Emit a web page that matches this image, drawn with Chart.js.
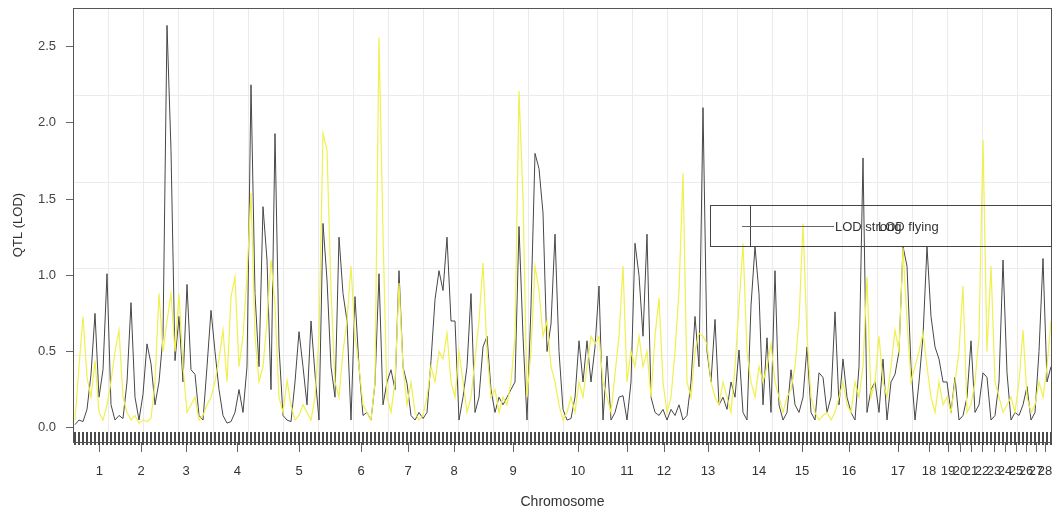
<!DOCTYPE html>
<html>
<head>
<meta charset="utf-8">
<script src="https://cdn.jsdelivr.net/npm/chart.js@4/dist/chart.umd.min.js"></script>
<style>
  html, body { margin: 0; padding: 0; background: #fff; }
  #wrap { width: 1055px; height: 516px; }
</style>
</head>
<body>
<div id="wrap"><canvas id="grafico-qtl"></canvas></div>
<script>
// chromosome labels and where they sit along the scan (marker index units)
const chromNames = ['1','2','3','4','5','6','7','8','9','10','11','12','13','14',
  '15','16','17','18','19','20','21','22','23','24','25','26','27','28'];
const chromMid = [6.1, 16.5, 27.75, 40.6, 56, 71.5, 83.25, 94.75, 109.5, 125.75, 138, 147.25,
  158.25, 171, 181.75, 193.5, 205.75, 213.5, 218.25, 221.25, 224, 226.75, 229.75, 232.5,
  235.25, 237.75, 240.25, 242.5];
const yTicks = [0, 0.5, 1.0, 1.5, 2.0, 2.5];

// LOD scores, one value per marker
const lodStrong = [
  0.02, 0.05, 0.04, 0.12, 0.35, 0.75, 0.20, 0.38, 1.01, 0.15,
  0.05, 0.08, 0.06, 0.30, 0.82, 0.20, 0.05, 0.22, 0.55, 0.42,
  0.15, 0.30, 0.60, 2.64, 1.82, 0.44, 0.73, 0.30, 0.94, 0.38,
  0.35, 0.08, 0.05, 0.40, 0.77, 0.50, 0.25, 0.08, 0.03, 0.04,
  0.10, 0.25, 0.10, 0.40, 2.25, 0.88, 0.40, 1.45, 1.10, 0.25,
  1.93, 0.53, 0.08, 0.05, 0.04, 0.30, 0.63, 0.40, 0.15, 0.70,
  0.35, 0.05, 1.34, 0.97, 0.40, 0.20, 1.25, 0.88, 0.70, 0.05,
  0.86, 0.40, 0.08, 0.10, 0.05, 0.29, 1.01, 0.15, 0.30, 0.38,
  0.25, 1.03, 0.40, 0.29, 0.08, 0.05, 0.10, 0.06, 0.10, 0.44,
  0.84, 1.03, 0.90, 1.25, 0.70, 0.70, 0.05, 0.20, 0.40, 0.88,
  0.10, 0.20, 0.53, 0.60, 0.25, 0.10, 0.20, 0.15, 0.20, 0.25,
  0.30, 1.32, 0.60, 0.05, 0.80, 1.80, 1.70, 1.41, 0.50, 0.68,
  1.27, 0.50, 0.12, 0.05, 0.06, 0.20, 0.57, 0.30, 0.57, 0.30,
  0.53, 0.93, 0.05, 0.47, 0.05, 0.10, 0.20, 0.21, 0.05, 0.30,
  1.21, 1.00, 0.60, 1.27, 0.20, 0.10, 0.08, 0.12, 0.05, 0.12,
  0.08, 0.15, 0.05, 0.08, 0.30, 0.73, 0.40, 2.10, 0.50, 0.30,
  0.71, 0.15, 0.20, 0.12, 0.30, 0.20, 0.51, 0.10, 0.05, 0.80,
  1.19, 0.88, 0.15, 0.59, 0.10, 1.03, 0.15, 0.05, 0.10, 0.38,
  0.15, 0.10, 0.20, 0.53, 0.10, 0.05, 0.36, 0.33, 0.10, 0.20,
  0.76, 0.15, 0.45, 0.20, 0.10, 0.05, 0.40, 1.77, 0.10, 0.25,
  0.30, 0.10, 0.45, 0.05, 0.30, 0.35, 0.50, 1.19, 1.06, 0.40,
  0.05, 0.30, 0.60, 1.19, 0.73, 0.53, 0.45, 0.30, 0.30, 0.10,
  0.33, 0.05, 0.08, 0.20, 0.57, 0.10, 0.15, 0.36, 0.33, 0.05,
  0.08, 0.30, 1.10, 0.36, 0.05, 0.10, 0.08, 0.15, 0.27, 0.05,
  0.10, 0.50, 1.11, 0.30, 0.40
];

const lodFlying = [
  0.05, 0.40, 0.73, 0.33, 0.20, 0.44, 0.10, 0.05, 0.15, 0.30,
  0.50, 0.64, 0.20, 0.10, 0.05, 0.08, 0.03, 0.05, 0.04, 0.06,
  0.30, 0.88, 0.50, 0.70, 0.88, 0.50, 0.88, 0.40, 0.10, 0.15,
  0.20, 0.05, 0.08, 0.15, 0.20, 0.30, 0.45, 0.64, 0.30, 0.86,
  0.99, 0.40, 0.60, 1.00, 1.54, 0.60, 0.30, 0.40, 0.70, 1.10,
  0.80, 0.20, 0.10, 0.31, 0.15, 0.05, 0.08, 0.15, 0.10, 0.05,
  0.20, 0.60, 1.93, 1.82, 0.90, 0.30, 0.20, 0.50, 0.70, 1.06,
  0.60, 0.40, 0.15, 0.10, 0.05, 0.30, 2.56, 1.27, 0.20, 0.10,
  0.30, 0.95, 0.40, 0.15, 0.30, 0.10, 0.05, 0.08, 0.20, 0.40,
  0.30, 0.50, 0.45, 0.62, 0.30, 0.20, 0.50, 0.30, 0.10, 0.20,
  0.45, 0.70, 1.08, 0.50, 0.20, 0.25, 0.10, 0.20, 0.15, 0.30,
  0.60, 2.21, 1.50, 0.20, 0.50, 1.06, 0.90, 0.60, 0.70, 0.40,
  0.30, 0.15, 0.05, 0.10, 0.20, 0.10, 0.30, 0.20, 0.40, 0.60,
  0.55, 0.60, 0.30, 0.20, 0.10, 0.35, 0.60, 1.06, 0.30, 0.50,
  0.40, 0.60, 0.40, 0.50, 0.20, 0.60, 0.85, 0.30, 0.10, 0.20,
  0.50, 0.90, 1.67, 0.30, 0.20, 0.50, 0.62, 0.60, 0.55, 0.30,
  0.20, 0.15, 0.30, 0.20, 0.10, 0.40, 0.80, 1.21, 0.50, 0.30,
  0.20, 0.40, 0.30, 0.40, 0.55, 0.30, 0.20, 0.10, 0.20, 0.25,
  0.40, 0.70, 1.34, 0.60, 0.20, 0.10, 0.05, 0.08, 0.10, 0.05,
  0.10, 0.20, 0.30, 0.15, 0.10, 0.30, 0.20, 0.40, 0.99, 0.20,
  0.30, 0.60, 0.30, 0.20, 0.40, 0.64, 0.50, 1.18, 0.70, 0.30,
  0.40, 0.50, 0.62, 0.40, 0.20, 0.10, 0.30, 0.15, 0.20, 0.10,
  0.30, 0.50, 0.93, 0.10, 0.15, 0.30, 0.60, 1.89, 0.50, 1.06,
  0.30, 0.20, 0.10, 0.15, 0.20, 0.10, 0.30, 0.64, 0.20, 0.10,
  0.15, 0.30, 0.20, 0.40, 0.70
];

const fonte = '"Liberation Sans", Arial, sans-serif';

// R style background grid (grid() splits the box evenly, not at the ticks)
const gradePlugin = {
  id: 'grade',
  beforeDatasetsDraw(chart) {
    const { ctx, chartArea: a } = chart;
    ctx.save();
    ctx.strokeStyle = '#ebebeb';
    ctx.lineWidth = 1;
    ctx.beginPath();
    for (let k = 1; k < 28; k++) {
      const x = Math.round(a.left + (a.right - a.left) * k / 28) + 0.5;
      ctx.moveTo(x, a.top);
      ctx.lineTo(x, a.bottom);
    }
    for (let k = 1; k < 5; k++) {
      const y = Math.round(a.top + (a.bottom - a.top) * k / 5) + 0.5;
      ctx.moveTo(a.left, y);
      ctx.lineTo(a.right, y);
    }
    ctx.stroke();
    ctx.restore();
  }
};

// box around the plot, marker rug, and the (overlapping) legend
const molduraPlugin = {
  id: 'moldura',
  afterDatasetsDraw(chart) {
    const { ctx, chartArea: a } = chart;
    const xs = chart.scales.x;
    ctx.save();

    // rug: one tick per marker
    ctx.strokeStyle = '#1e1e1e';
    ctx.lineWidth = 1.6;
    ctx.beginPath();
    lodStrong.forEach((v, i) => {
      const x = xs.getPixelForValue(i);
      ctx.moveTo(x, a.bottom - 10);
      ctx.lineTo(x, a.bottom + 3);
    });
    ctx.stroke();

    ctx.strokeStyle = '#555';
    ctx.lineWidth = 1;
    ctx.strokeRect(a.left + 0.5, a.top + 0.5, a.right - a.left - 1, a.bottom - a.top);
    ctx.restore();
  },
  afterDraw(chart) {
    const { ctx, chartArea: a } = chart;
    ctx.save();
    ctx.strokeStyle = '#444';
    ctx.lineWidth = 1;
    ctx.strokeRect(710.5, 205.5, a.right - 711, 41);
    ctx.beginPath();
    ctx.moveTo(750.5, 205.5);
    ctx.lineTo(750.5, 246.5);
    ctx.stroke();

    ctx.strokeStyle = '#666';
    ctx.beginPath();
    ctx.moveTo(742, 226.5);
    ctx.lineTo(834, 226.5);
    ctx.stroke();

    ctx.fillStyle = '#333';
    ctx.font = '13px ' + fonte;
    ctx.textBaseline = 'middle';
    ctx.fillText('LOD strong', 835, 227);
    ctx.fillText('LOD flying', 878, 227);
    ctx.restore();
  }
};

const ctx = document.getElementById('grafico-qtl').getContext('2d');

const graficoQtl = new Chart(ctx, {
  type: 'line',
  data: {
    datasets: [
      {
        label: 'LOD strong',
        data: lodStrong.map((v, i) => ({ x: i, y: v })),
        borderColor: '#474747',
        borderWidth: 1,
        pointRadius: 0,
        tension: 0,
        order: 2
      },
      {
        label: 'LOD flying',
        data: lodFlying.map((v, i) => ({ x: i, y: v })),
        borderColor: '#f0f050',
        borderWidth: 1.2,
        pointRadius: 0,
        tension: 0,
        order: 1
      }
    ]
  },
  options: {
    responsive: true,
    maintainAspectRatio: false,
    animation: false,
    layout: { padding: { top: 8, right: 3, left: 0, bottom: 0 } },
    plugins: {
      legend: { display: false },
      tooltip: { enabled: false }
    },
    scales: {
      x: {
        type: 'linear',
        min: -0.5,
        max: 244.25,
        afterFit(scale) {
          scale.height = 74;
          scale.paddingLeft = 0;
          scale.paddingRight = 0;
        },
        afterBuildTicks(scale) {
          scale.ticks = chromMid.map(v => ({ value: v }));
        },
        grid: { drawOnChartArea: false, drawTicks: true, tickLength: 10, tickColor: '#666' },
        border: { display: false },
        ticks: {
          autoSkip: false,
          maxRotation: 0,
          padding: 12,
          color: '#333',
          font: { family: fonte, size: 13 },
          callback: (val, idx) => chromNames[idx]
        },
        title: {
          display: true,
          text: 'Chromosome',
          color: '#333',
          font: { family: fonte, size: 14 },
          padding: { bottom: 5 }
        }
      },
      y: {
        min: -0.094,
        max: 2.754,
        afterFit(scale) {
          scale.width = 73;
          scale.paddingTop = 0;
          scale.paddingBottom = 0;
        },
        afterBuildTicks(scale) {
          scale.ticks = yTicks.map(v => ({ value: v }));
        },
        grid: { drawOnChartArea: false, drawTicks: true, tickLength: 7, tickColor: '#666' },
        border: { display: false },
        ticks: {
          padding: 10,
          color: '#444',
          font: { family: fonte, size: 13 },
          callback: v => v.toFixed(1)
        },
        title: {
          display: true,
          text: 'QTL (LOD)',
          color: '#333',
          font: { family: fonte, size: 13 },
          padding: { top: 11 }
        }
      }
    }
  },
  plugins: [gradePlugin, molduraPlugin]
});
</script>
</body>
</html>
